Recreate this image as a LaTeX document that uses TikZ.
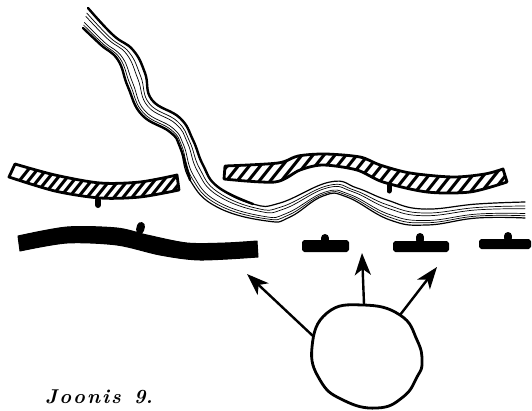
\documentclass[tikz,border=0pt]{standalone}
\usetikzlibrary{arrows.meta,calc}
\tikzset{
  ink/.style={draw=black,line join=round,line cap=round},
  hatchedge/.style={ink,line width=2.8pt},
  hatchline/.style={black,line width=3pt},
  solidbar/.style={ink,fill=black,line width=1pt},
  block/.style={ink,fill=black,line width=2pt,rounded corners=1.5pt},
  stub/.style={ink,line width=8pt},
  roadedge/.style={ink,line width=1.2pt},
  roadbold/.style={ink,line width=2.4pt},
  roadthin/.style={ink,line width=.7pt},
  ringline/.style={ink,line width=2.8pt},
  pointer/.style={black,line width=2.4pt,-{Stealth[length=22pt,width=16pt,inset=6pt]}}
}
\newcommand{\lefthatch}{plot[smooth] coordinates {(15,164) (55,175) (100,183) (140,182) (177,175)} -- plot[smooth] coordinates {(179,190) (140,197) (100,198) (55,191) (9,177)} -- cycle}
\newcommand{\righthatch}{plot[smooth,tension=.5] coordinates {(225,166) (278,163) (298,156) (325,154) (360,157) (380,165) (410,173) (453,177) (485,174) (503,169)} -- plot[smooth,tension=.5] coordinates {(507,182) (470,192) (427,192) (383,182) (357,170) (323,165) (300,170) (275,182) (224,179)} -- cycle}
\begin{document}
\begin{tikzpicture}[x=1pt,y=-1pt]
\useasboundingbox (0,0) rectangle (532,410);
% road: matching points of its two edges
\foreach \n/\ux/\uy/\lx/\ly in {1/88/8/83/28,2/113/35/101/45,3/133/50/118/60,4/145/73/128/87,5/152/100/142/115,6/180/118/170/132,7/193/140/180/147,8/203/165/190/180,9/218/187/217/207,10/253/204/267/221,11/280/203/290/217,12/330/182/323/196,13/357/188/347/197,14/387/200/390/220,15/423/209/427/225,16/477/204/477/218,17/525/202/525/218}{
  \coordinate (u\n) at (\ux,\uy);
  \coordinate (l\n) at (\lx,\ly);
}
\foreach \t/\sty in {0/roadedge,.25/roadthin,.42/roadthin,.72/roadthin,.86/roadthin,1/roadedge}{
  \draw[\sty] plot[smooth,tension=.75] coordinates {
    ($(u1)!\t!(l1)$) ($(u2)!\t!(l2)$) ($(u3)!\t!(l3)$) ($(u4)!\t!(l4)$) ($(u5)!\t!(l5)$) ($(u6)!\t!(l6)$) ($(u7)!\t!(l7)$) ($(u8)!\t!(l8)$) ($(u9)!\t!(l9)$) ($(u10)!\t!(l10)$) ($(u11)!\t!(l11)$) ($(u12)!\t!(l12)$) ($(u13)!\t!(l13)$) ($(u14)!\t!(l14)$) ($(u15)!\t!(l15)$) ($(u16)!\t!(l16)$) ($(u17)!\t!(l17)$)};
}
\draw[roadbold] plot[smooth,tension=.75] coordinates {(u1) (u2) (u3) (u4) (u5) (u6) (u7) (u8) (u9) (u10)};
\draw[roadbold] plot[smooth,tension=.75] coordinates {(l1) (l2) (l3) (l4) (l5) (l6) (l7) (l8)};
% hatched bars
\begin{scope}
  \clip \lefthatch;
  \foreach \x in {0,9,...,200}{\draw[hatchline] (\x,205) -- (\x+40,155);}
\end{scope}
\draw[hatchedge] \lefthatch;
\draw[stub,line width=6pt] (98,200) -- (98,205);
\begin{scope}
  \clip \righthatch;
  \foreach \x in {200,211,...,520}{\draw[hatchline] (\x,200) -- (\x+44,145);}
\end{scope}
\draw[hatchedge] \righthatch;
\draw[stub,line width=5pt] (389,186) -- (389,191);
% black bar
\draw[solidbar] plot[smooth] coordinates {(18,236) (67,227) (117,228) (147,235) (187,243) (225,243) (257,241)} -- plot[smooth] coordinates {(258,257) (200,260) (160,255) (117,245) (67,243) (20,251)} -- cycle;
\draw[stub] (140,230) -- (141,226);
% blocks
\draw[block] (303,241) rectangle (348,251);
\draw[stub] (325,240) -- (325,238);
\draw[block] (394,242) rectangle (448,251);
\draw[stub] (420,240) -- (420,237);
\draw[block] (480,240) rectangle (530,248);
\draw[stub] (508,238) -- (508,236);
% circle and arrows
\draw[ringline] plot[smooth cycle,tension=.8] coordinates {(363,305) (400,315) (417,340) (422,362) (417,377) (403,397) (377,408) (343,400) (320,380) (312,347) (327,313)};
\coordinate (sa) at (313,336);
\coordinate (ea) at (247,274);
\coordinate (sb) at (364,304);
\coordinate (eb) at (362,253);
\coordinate (sc) at (400,315);
\coordinate (ec) at (437,267);
\draw[pointer] (sa) -- (ea);
\draw[pointer] (sb) -- (eb);
\draw[pointer] (sc) -- (ec);
\node[anchor=base west,inner sep=0pt,font=\fontsize{20}{22}\selectfont\bfseries\itshape] (cap) at (45,403) {J\kern2pt o\kern2pt o\kern2pt n\kern2pt i\kern2pt s\kern13pt 9.};
\end{tikzpicture}
\end{document}
